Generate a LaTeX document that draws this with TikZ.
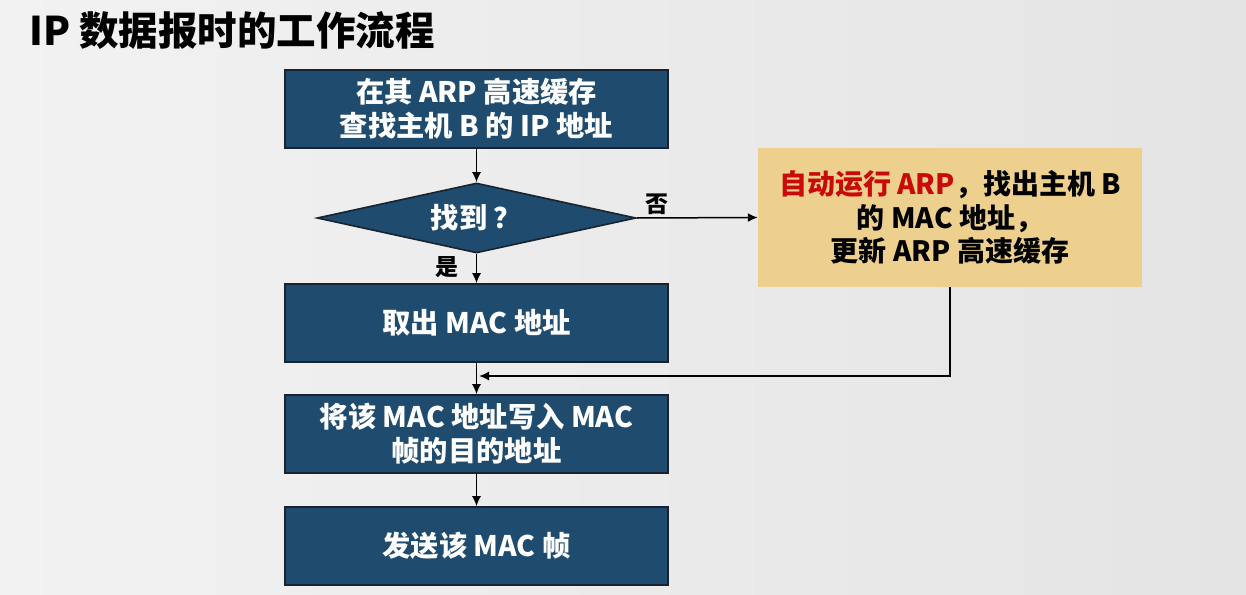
\documentclass[tikz,border=0pt]{standalone}
\usepackage{fontspec}
\setmainfont{Noto Sans CJK SC}
\usetikzlibrary{shapes.geometric,arrows.meta}
\definecolor{boxblue}{RGB}{31,76,110}
\definecolor{boxedge}{RGB}{25,35,45}
\definecolor{yel}{RGB}{237,208,142}
\definecolor{redtxt}{RGB}{200,10,10}
\definecolor{bgl}{RGB}{242,242,242}
\definecolor{bgr}{RGB}{228,228,228}
\tikzset{
  stepbox/.style={rectangle, draw=boxedge, line width=1.6pt, fill=boxblue, text=white,
    minimum width=383pt, minimum height=78pt, inner sep=0pt, align=center,
    font=\fontsize{28.3}{34}\selectfont\bfseries},
  decide/.style={diamond, draw=boxedge, line width=1.6pt, fill=boxblue, text=white,
    aspect=4.56, minimum width=319pt, minimum height=70pt, inner sep=0pt,
    font=\fontsize{28.3}{34}\selectfont\bfseries},
  notebox/.style={rectangle, fill=yel, text=black, minimum width=384pt, minimum height=139pt,
    inner sep=0pt, align=center, font=\fontsize{28}{33.5}\selectfont\bfseries},
  conn/.style={draw=black, line width=1.5pt, -{Latex[length=10pt,width=9pt]}},
  lbl/.style={text=black, inner sep=0pt, font=\fontsize{23}{26}\selectfont\bfseries}
}
\begin{document}
\begin{tikzpicture}[x=1pt,y=-1pt]
  \shade[left color=bgl, right color=bgr] (0,0) rectangle (1246,594);
  \useasboundingbox (0,0) rectangle (1246,594);
  \node[anchor=west, inner sep=0pt, font=\fontsize{39.5}{44}\selectfont\bfseries] (title) at (29,31) {IP 数据报时的工作流程};
  \node[stepbox] (lookup) at (476.5,109) {在其 ARP 高速缓存\\查找主机 B 的 IP 地址};
  \node[decide] (found) at (476.5,218) {找到 ？};
  \node[stepbox] (take) at (476.5,323) {取出 MAC 地址};
  \node[stepbox] (write) at (476.5,434) {将该 MAC 地址写入 MAC\\帧的目的地址};
  \node[stepbox] (send) at (476.5,546) {发送该 MAC 帧};
  \node[notebox] (arp) at (950,217.5) {\textcolor{redtxt}{自动运行 ARP}，找出主机 B\\的 MAC 地址，\\更新 ARP 高速缓存};
  \node[lbl] (no) at (657,204) {否};
  \node[lbl] (yes) at (447,267) {是};
  \coordinate (merge) at (479,376);
  \draw[conn] (lookup) -- (found);
  \draw[conn] (found.east) -- (arp.west);
  \draw[conn] (found.south) -- (take.north);
  \draw[conn] (take) -- (write);
  \draw[conn] (write) -- (send);
  \draw[conn] (arp.south) |- (merge);
\end{tikzpicture}
\end{document}
